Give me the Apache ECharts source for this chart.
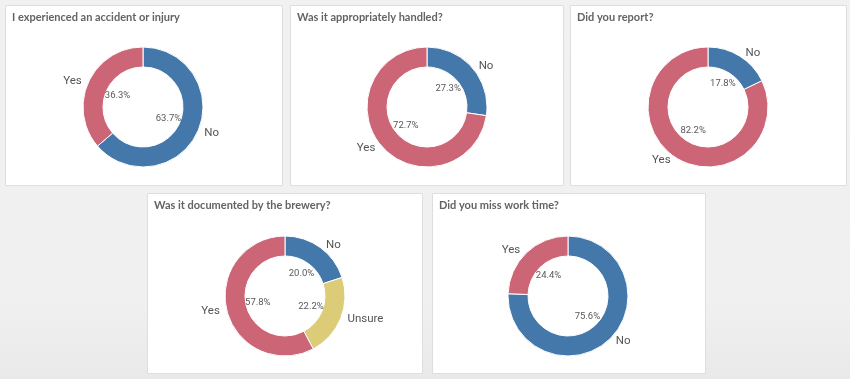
<!DOCTYPE html>
<html>
<head>
<meta charset="utf-8">
<script src="https://cdn.jsdelivr.net/npm/echarts@6/dist/echarts.min.js"></script>
<style>
  html, body { margin: 0; padding: 0; }
  body { width: 850px; height: 379px; background: linear-gradient(#f1f1f1 0%, #f0f0f0 80%, #e9e9e9 100%); overflow: hidden; }
  #chart { width: 850px; height: 379px; }
</style>
</head>
<body>
<div id="chart"></div>
<script>
// ---- data ----
const titles = [
  "I experienced an accident or injury",
  "Was it appropriately handled?",
  "Did you report?",
  "Was it documented by the brewery?",
  "Did you miss work time?"
];
const categories1 = ["No", "Yes"];
const values1 = [63.7, 36.3];
const categories2 = ["No", "Yes"];
const values2 = [27.3, 72.7];
const categories3 = ["No", "Yes"];
const values3 = [17.8, 82.2];
const categories4 = ["No", "Unsure", "Yes"];
const values4 = [20.0, 22.2, 57.8];
const categories5 = ["No", "Yes"];
const values5 = [75.6, 24.4];

const palette = { "No": "#4477aa", "Yes": "#cc6677", "Unsure": "#ddcc77" };

// ---- layout ----
const panels = [
  { x: 5,   y: 5,   w: 277, h: 180, cx: 143, cy: 107 },
  { x: 290, y: 5,   w: 273, h: 180, cx: 427, cy: 107 },
  { x: 570, y: 5,   w: 276, h: 180, cx: 708, cy: 107 },
  { x: 147, y: 193, w: 275, h: 180, cx: 285, cy: 296 },
  { x: 432, y: 193, w: 273, h: 180, cx: 568, cy: 296 }
];
const datasets = [
  [categories1, values1],
  [categories2, values2],
  [categories3, values3],
  [categories4, values4],
  [categories5, values5]
];

const labelFont = "Roboto, 'Liberation Sans', sans-serif";

const chart = echarts.init(document.getElementById('chart'), null, { renderer: 'canvas' });

const graphic = panels.map(p => ({
  type: 'rect',
  z: -10,
  shape: { x: p.x + 0.5, y: p.y + 0.5, width: p.w, height: p.h },
  style: { fill: '#ffffff', stroke: '#dedede', lineWidth: 1 }
}));

const title = panels.map((p, i) => ({
  text: titles[i],
  left: p.x + 7,
  top: p.y + 7,
  padding: 0,
  textStyle: { fontFamily: "Lato, 'Open Sans', sans-serif", fontWeight: 'bold', fontSize: 11, color: '#636363' }
}));

const series = [];
panels.forEach((p, i) => {
  const [cats, vals] = datasets[i];
  const data = cats.map((c, k) => ({ name: c, value: vals[k], itemStyle: { color: palette[c] } }));
  series.push({
    type: 'pie',
    center: [p.cx, p.cy],
    radius: [40, 60],
    startAngle: 90,
    clockwise: true,
    avoidLabelOverlap: false,
    silent: true,
    animation: false,
    itemStyle: { borderColor: '#ffffff', borderWidth: 1 },
    label: {
      show: true, position: 'outside', formatter: '{b}',
      fontFamily: labelFont, fontSize: 11.5, color: '#555555', distanceToLabelLine: 4
    },
    labelLine: { show: false, length: 3, length2: 0 },
    data: data
  });
  series.push({
    type: 'pie',
    center: [p.cx, p.cy],
    radius: [0, 50],
    startAngle: 90,
    clockwise: true,
    avoidLabelOverlap: false,
    silent: true,
    animation: false,
    itemStyle: { color: 'rgba(0,0,0,0)' },
    label: {
      show: true, position: 'inside',
      formatter: params => params.value.toFixed(1) + '%',
      fontFamily: labelFont, fontSize: 9.5, color: '#595959'
    },
    labelLine: { show: false },
    data: cats.map((c, k) => ({ name: c, value: vals[k] }))
  });
});

chart.setOption({
  backgroundColor: 'transparent',
  animation: false,
  graphic: graphic,
  title: title,
  series: series
});
</script>
</body>
</html>
